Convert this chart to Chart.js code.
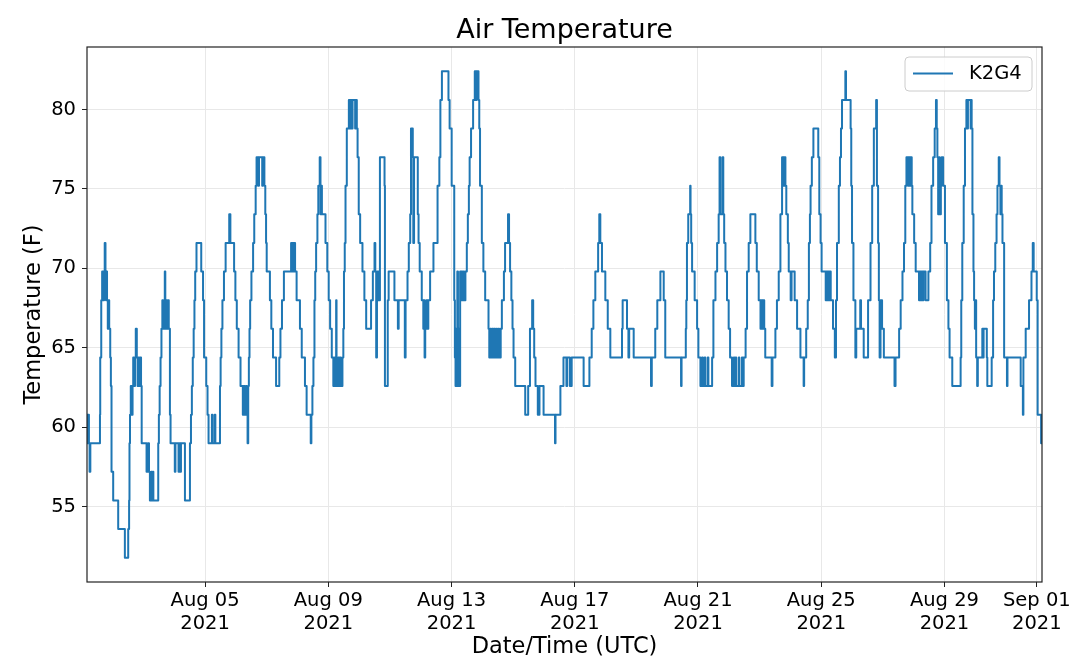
<!DOCTYPE html>
<html>
<head>
<meta charset="utf-8">
<script src="https://cdn.jsdelivr.net/npm/chart.js@4.4.0/dist/chart.umd.min.js"></script>
<style>
html,body{margin:0;padding:0;background:#fff;}
#wrap{width:1080px;height:664px;position:relative;}
</style>
</head>
<body>
<div id="wrap"><canvas id="c"></canvas></div>
<script>
// Observations: [hours since 2021-08-01 00:00 UTC, air temperature °F]
const week1 = [[4,60.8],[4.3,59],[4.9,60.8],[5.5,59],[6.0,57.2],[6.6,59],[14.1,60.8],[14.3,64.4],[15.1,68],[15.8,69.8],[16.8,68],[17.3,69.8],[17.8,71.6],[18.4,69.8],[18.8,68],[19.2,69.8],[19.6,68],[20.2,66.2],[20.7,68],[21.3,66.2],[22.1,64.4],[22.6,62.6],[23.1,57.2],[24.4,55.4],[28.3,53.6],[33.5,51.8],[36.1,53.6],[36.8,55.4],[37.1,59],[37.5,60.8],[38.1,62.6],[39.0,60.8],[39.5,62.6],[40.0,64.4],[40.8,62.6],[41.4,64.4],[42.0,66.2],[42.8,64.4],[43.4,62.6],[44.0,64.4],[44.6,62.6],[45.3,64.4],[46.1,62.6],[46.6,59],[50.4,57.2],[51.6,59],[52.3,57.2],[53.0,55.4],[54.0,57.2],[54.5,55.4],[55.3,57.2],[55.7,55.4],[59.5,59],[60.0,60.8],[60.6,62.6],[61.3,64.4],[62.0,66.2],[62.7,68],[63.3,66.2],[63.9,68],[64.6,69.8],[65.0,66.2],[65.6,68],[66.3,66.2],[67.0,68],[67.7,66.2],[68.6,60.8],[69.1,59],[72.4,57.2],[72.9,59],[75.3,57.2],[75.9,59],[76.7,57.2],[77.2,59],[80.3,55.4],[84.2,59],[85.0,60.8],[85.7,62.6],[86.4,64.4],[87.1,66.2],[87.7,68],[88.3,69.8],[89.3,71.6],[93.0,69.8],[94.4,68],[95.2,64.4],[96.9,62.6],[97.9,60.8],[98.7,59],[101.3,60.8],[101.8,59],[103.5,60.8],[104.0,59],[107.6,62.6],[108.1,64.4],[108.7,66.2],[109.5,68],[110.7,69.8],[112.0,71.6],[114.8,73.4],[115.7,71.6],[118.6,69.8],[119.6,68],[120.7,66.2],[122.1,64.4],[123.6,62.6],[125.4,60.8],[126.1,62.6],[127.1,60.8],[127.9,62.6],[128.6,60.8],[129.1,59],[129.6,62.6],[130.1,64.4],[130.6,66.2],[131.1,68],[132.1,69.8],[133.4,71.6],[134.3,73.4],[135.4,75.2],[136.1,77],[137.5,75.2],[138.0,77],[140.5,75.2],[141.0,77],[142.2,75.2],[142.9,73.4],[143.5,71.6],[144.0,69.8],[146.5,68],[147.6,66.2],[148.9,64.4],[151.3,62.6],[153.8,64.4],[154.7,66.2],[155.9,68],[157.4,69.8],[163.0,71.6],[163.6,69.8],[164.1,71.6],[164.8,69.8],[165.3,71.6],[166.1,69.8],[167.3,68]];
const week2 = [[169.9,66.2],[171.3,64.4],[173.8,62.6],[175.1,60.8],[178.3,59],[178.8,60.8],[179.6,62.6],[180.4,64.4],[181.2,68],[181.8,69.8],[182.5,71.6],[183.5,73.4],[184.2,75.2],[185.3,77],[185.9,73.4],[186.5,75.2],[187.0,73.4],[189.8,71.6],[191.2,69.8],[192.3,68],[193.4,66.2],[194.7,64.4],[195.9,62.6],[196.9,64.4],[197.5,62.6],[198.1,68],[198.4,62.6],[199.8,64.4],[200.4,62.6],[201.1,64.4],[201.7,62.6],[203.0,64.4],[203.7,66.2],[204.2,69.8],[204.8,71.6],[205.4,75.2],[206.4,78.8],[208.0,80.6],[209.0,78.8],[209.5,80.6],[210.4,78.8],[210.9,80.6],[212.9,78.8],[213.3,80.6],[214.2,78.8],[214.8,77],[215.7,73.4],[216.8,71.6],[218.6,69.8],[220.1,68],[221.5,66.2],[225.3,68],[226.7,69.8],[228.0,71.6],[228.6,69.8],[229.3,64.4],[229.9,69.8],[231.2,68],[232.2,77],[235.8,75.2],[236.1,62.6],[238.3,68],[239.0,69.8],[243.5,68],[246.2,66.2],[246.8,68],[251.6,64.4],[252.2,68],[253.7,69.8],[254.7,71.6],[255.8,73.4],[256.4,78.8],[257.8,77],[258.2,71.6],[258.8,77],[261.7,73.4],[262.3,71.6],[263.2,69.8],[264.8,68],[266.0,66.2],[266.5,68],[267.0,64.4],[267.5,66.2],[268.4,68],[269.4,66.2],[269.9,68],[271.3,69.8],[273.9,71.6],[277.1,75.2],[278.5,77],[279.3,80.6],[280.5,82.4],[285.6,80.6],[286.5,78.8],[288.1,75.2],[290.1,68],[290.6,64.4],[291.1,62.6],[291.5,66.2],[292.0,62.6],[292.5,69.8],[293.0,62.6],[293.6,66.2],[294.1,62.6],[294.7,69.8],[295.3,68],[295.9,69.8],[296.5,68],[297.3,69.8],[297.8,68],[298.8,69.8],[299.9,71.6],[300.7,73.4],[301.5,75.2],[302.1,77],[303.2,78.8],[304.8,80.6],[306.1,82.4],[307.0,80.6],[307.5,82.4],[309.0,80.6],[309.6,78.8],[310.2,75.2],[311.6,71.6],[312.8,69.8],[314.2,68],[316.8,66.2],[317.4,64.4],[318.1,66.2],[318.7,64.4],[319.6,66.2],[320.2,64.4],[321.0,66.2],[322.0,64.4],[323.0,66.2],[323.5,64.4],[324.5,66.2],[325.1,64.4],[326.3,66.2],[327.2,68],[328.8,69.8],[329.7,71.6],[332.0,73.4],[332.8,71.6],[333.6,69.8],[334.6,68],[335.5,66.2]];
const week3 = [[336.3,64.4],[337.6,62.6],[345.4,60.8],[347.7,62.6],[349.1,66.2],[350.8,68],[351.6,66.2],[352.4,64.4],[353.4,62.6],[355.2,60.8],[356.5,62.6],[359.7,60.8],[368.6,59],[369.0,60.8],[372.8,62.6],[375.2,64.4],[377.5,62.6],[378.1,64.4],[380.2,62.6],[381.6,64.4],[390.9,62.6],[395.4,64.4],[397.2,66.2],[398.5,68],[400.0,69.8],[402.2,71.6],[403.1,73.4],[403.9,71.6],[405.2,69.8],[407.8,68],[409.7,66.2],[411.7,64.4],[420.8,66.2],[421.3,68],[424.7,66.2],[425.8,64.4],[426.4,66.2],[429.9,64.4],[443.4,62.6],[444.0,64.4],[446.7,66.2],[448.3,68],[450.7,69.8],[453.3,68],[454.5,64.4],[466.8,62.6],[467.2,64.4],[470.5,66.2],[470.9,68],[471.4,71.6],[472.4,73.4],[473.9,75.2],[474.2,73.4],[474.7,71.6],[475.4,69.8],[477.4,68],[479.3,66.2],[480.3,64.4],[481.9,62.6],[483.2,64.4],[483.8,62.6],[485.2,64.4],[485.7,62.6],[487.6,64.4],[488.1,62.6],[491.0,64.4],[492.0,68],[493.6,69.8],[494.9,71.6],[496.1,73.4],[496.8,77],[497.4,73.4],[499.1,77],[499.7,73.4],[500.4,71.6],[501.4,69.8],[502.6,68],[503.9,66.2]];
const week4 = [[505.0,64.4],[506.5,62.6],[507.9,64.4],[508.4,62.6],[509.3,64.4],[509.8,62.6],[511.8,64.4],[512.2,62.6],[514.2,64.4],[514.7,62.6],[515.6,64.4],[517.1,66.2],[518.2,69.8],[519.5,71.6],[520.8,73.4],[524.7,71.6],[525.8,69.8],[527.3,68],[528.7,66.2],[529.2,68],[530.1,66.2],[530.6,68],[531.6,66.2],[532.4,64.4],[537.4,62.6],[538.0,64.4],[540.3,66.2],[541.5,68],[542.9,69.8],[544.2,73.4],[545.5,77],[546.5,75.2],[547.0,77],[548.1,75.2],[548.8,73.4],[550.0,71.6],[550.7,69.8],[552.2,68],[552.9,69.8],[555.3,68],[557.2,66.2],[559.8,64.4],[562.3,62.6],[562.7,64.4],[564.3,66.2],[565.5,68],[566.4,71.6],[567.2,73.4],[567.7,75.2],[568.7,77],[569.9,78.8],[573.7,77],[574.5,73.4],[575.5,71.6],[576.3,69.8],[579.5,68],[580.1,69.8],[580.9,68],[581.5,69.8],[582.2,68],[582.8,69.8],[583.4,68],[585.2,66.2],[586.6,64.4],[587.5,68],[588.3,71.6],[589.7,75.2],[590.6,77],[591.4,78.8],[592.2,80.6],[594.8,82.4],[595.3,80.6],[598.9,78.8],[599.4,75.2],[600.0,71.6],[601.1,68],[602.6,64.4],[603.3,66.2],[606.4,68],[607.0,66.2],[609.1,64.4],[612.5,68],[614.4,71.6],[615.7,75.2],[617.0,78.8],[618.8,80.6],[619.4,75.2],[620.3,71.6],[620.9,68],[621.5,64.4],[622.2,68],[623.4,66.2],[624.8,64.4],[633.1,62.6],[633.9,64.4],[636.7,66.2],[637.9,68],[639.3,69.8],[640.5,71.6],[641.5,75.2],[642.4,77],[643.6,75.2],[644.1,77],[644.9,75.2],[645.4,77],[646.5,75.2],[647.0,73.4],[648.4,71.6],[649.6,69.8],[652.2,68],[652.8,69.8],[653.8,68],[654.4,69.8],[655.2,68],[655.7,69.8],[657.3,68],[659.5,69.8],[660.9,71.6],[661.9,75.2],[663.2,77],[664.4,78.8],[665.4,80.6],[666.0,78.8],[666.5,77],[667.1,73.4],[667.7,77],[668.3,73.4],[669.2,75.2],[669.8,77],[671.0,75.2]];
const week5 = [[672.4,71.6],[673.9,68],[675.1,66.2],[676.0,64.4],[678.1,62.6],[684.6,64.4],[685.1,68],[685.9,71.6],[687.0,75.2],[688.0,78.8],[689.1,80.6],[690.0,78.8],[690.3,80.6],[692.4,78.8],[692.8,80.6],[693.2,78.8],[693.8,73.4],[694.6,69.8],[695.1,68],[695.7,66.2],[696.1,68],[696.7,64.4],[697.5,62.6],[698.0,64.4],[701.5,66.2],[702.0,64.4],[702.5,66.2],[705.0,64.4],[705.4,62.6],[708.8,64.4],[709.9,68],[710.6,69.8],[711.6,71.6],[712.6,73.4],[713.3,75.2],[714.3,77],[714.9,75.2],[715.6,73.4],[716.1,75.2],[716.6,73.4],[717.2,71.6],[718.5,64.4],[720.7,62.6],[721.1,64.4],[731.4,62.6],[733.1,60.8],[733.5,64.4],[735.3,66.2],[737.9,68],[739.8,69.8],[740.8,71.6],[741.5,69.8],[743.9,68],[744.6,60.8],[747.3,59],[748,59]];

const seriesName = "K2G4";
const xTickHours = [96, 192, 288, 384, 480, 576, 672, 744];
const xTickLabels = [["Aug 05","2021"],["Aug 09","2021"],["Aug 13","2021"],["Aug 17","2021"],["Aug 21","2021"],["Aug 25","2021"],["Aug 29","2021"],["Sep 01","2021"]];
const yTickValues = [55, 60, 65, 70, 75, 80];

const FONT = "'DejaVu Sans', 'Liberation Sans', sans-serif";
Chart.defaults.font.family = FONT;
Chart.defaults.color = '#000';

const points = [].concat(week1, week2, week3, week4, week5).map(p => ({x: p[0], y: p[1]}));

const framePlugin = {
  id: 'frame',
  afterDatasetsDraw(chart) {
    const {ctx, chartArea: a} = chart;
    ctx.save();
    ctx.strokeStyle = '#222';
    ctx.lineWidth = 1.2;
    ctx.strokeRect(a.left, a.top, a.right - a.left, a.bottom - a.top);
    ctx.restore();
  }
};

const legendPlugin = {
  id: 'insideLegend',
  afterDraw(chart) {
    const {ctx, chartArea: a} = chart;
    const bw = 127, bh = 34;
    const bx = a.right - 10 - bw, by = a.top + 10;
    const r = 4;
    ctx.save();
    ctx.beginPath();
    ctx.moveTo(bx + r, by);
    ctx.lineTo(bx + bw - r, by);
    ctx.quadraticCurveTo(bx + bw, by, bx + bw, by + r);
    ctx.lineTo(bx + bw, by + bh - r);
    ctx.quadraticCurveTo(bx + bw, by + bh, bx + bw - r, by + bh);
    ctx.lineTo(bx + r, by + bh);
    ctx.quadraticCurveTo(bx, by + bh, bx, by + bh - r);
    ctx.lineTo(bx, by + r);
    ctx.quadraticCurveTo(bx, by, bx + r, by);
    ctx.closePath();
    ctx.fillStyle = 'rgba(255,255,255,0.8)';
    ctx.fill();
    ctx.strokeStyle = '#cccccc';
    ctx.lineWidth = 1;
    ctx.stroke();
    const cy = by + 16.5;
    ctx.beginPath();
    ctx.moveTo(bx + 8, cy);
    ctx.lineTo(bx + 48, cy);
    ctx.strokeStyle = '#1f77b4';
    ctx.lineWidth = 2;
    ctx.stroke();
    ctx.fillStyle = '#000';
    ctx.font = '19.5px ' + FONT;
    ctx.textAlign = 'left';
    ctx.textBaseline = 'middle';
    ctx.fillText(seriesName, bx + 64, cy);
    ctx.restore();
  }
};

new Chart(document.getElementById('c'), {
  type: 'line',
  data: {
    datasets: [{
      label: seriesName,
      data: points,
      borderColor: '#1f77b4',
      backgroundColor: '#1f77b4',
      borderWidth: 2,
      pointRadius: 0,
      pointHoverRadius: 0,
      stepped: true,
      fill: false,
      borderJoinStyle: 'round'
    }]
  },
  options: {
    responsive: true,
    maintainAspectRatio: false,
    animation: false,
    events: [],
    layout: {padding: {left: 0, right: 38, top: 0, bottom: 0}},
    plugins: {
      legend: {display: false},
      tooltip: {enabled: false},
      title: {
        display: true,
        text: 'Air Temperature',
        fullSize: false,
        color: '#000',
        font: {size: 27, weight: 'normal', family: FONT},
        padding: {top: 14.6, bottom: 0}
      }
    },
    scales: {
      x: {
        type: 'linear',
        min: 4,
        max: 748,
        afterBuildTicks: s => { s.ticks = xTickHours.map(v => ({value: v})); },
        afterFit: s => { s.height = 82; },
        ticks: {
          autoSkip: false,
          maxRotation: 0,
          minRotation: 0,
          padding: 3,
          color: '#000',
          font: {size: 19.5, lineHeight: 1.15, family: FONT},
          callback: v => xTickLabels[xTickHours.indexOf(v)]
        },
        grid: {color: '#e8e8e8', lineWidth: 1, tickLength: 5, tickColor: '#222', drawTicks: true},
        border: {display: false},
        title: {display: true, text: 'Date/Time (UTC)', color: '#000', font: {size: 22.5, family: FONT}, padding: {top: 0, bottom: 3}}
      },
      y: {
        type: 'linear',
        min: 50.27,
        max: 83.93,
        afterBuildTicks: s => { s.ticks = yTickValues.map(v => ({value: v})); },
        afterFit: s => { s.width = 87; },
        ticks: {
          padding: 6,
          color: '#000',
          font: {size: 19.5, family: FONT},
          callback: v => String(v)
        },
        grid: {color: '#e8e8e8', lineWidth: 1, tickLength: 5, tickColor: '#222', drawTicks: true},
        border: {display: false},
        title: {display: true, text: 'Temperature (F)', color: '#000', font: {size: 22.5, family: FONT}, padding: {top: 21, bottom: 0}}
      }
    }
  },
  plugins: [framePlugin, legendPlugin]
});
</script>
</body>
</html>
